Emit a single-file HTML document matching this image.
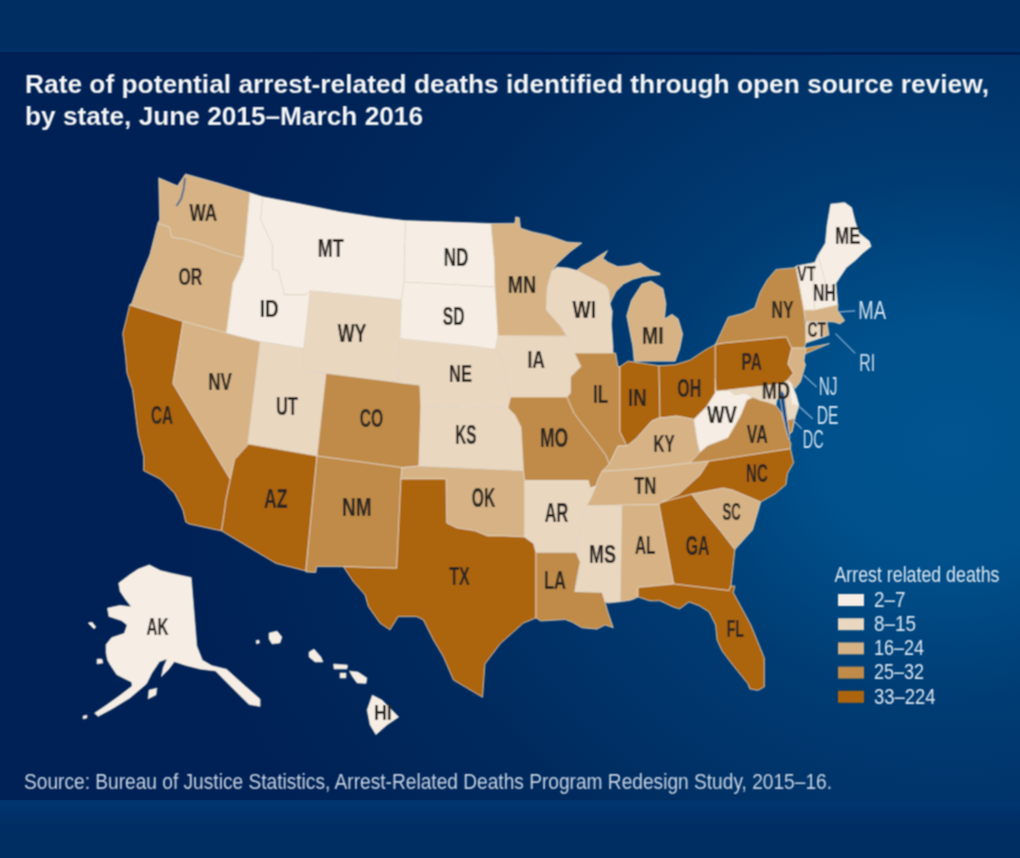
<!DOCTYPE html>
<html><head><meta charset="utf-8"><style>
html,body{margin:0;padding:0;}
body{width:1020px;height:858px;overflow:hidden;position:relative;font-family:"Liberation Sans",sans-serif;
background:#0a2a60;}
#bg{position:absolute;left:0;top:0;width:1020px;height:858px;
background:radial-gradient(1035px 900px at 950px 440px,#00548f 0px,#00508b 140px,#003c73 300px,#00346a 420px,#002a5e 560px,#002155 780px);}
#topband{position:absolute;left:0;top:0;width:1020px;height:52px;background:linear-gradient(180deg,#002e62 0px,#002e62 46px,#003169 51px,#002c60 52px);border-bottom:3px solid #001f52;}
#botband{position:absolute;left:0;top:800px;width:1020px;height:58px;background:linear-gradient(180deg,#00336c 0px,#00366f 4px,#003068 14px,#002e62 30px);}
svg{position:absolute;left:0;top:0;}
</style></head><body>
<div id="bg"></div><div id="topband"></div><div id="botband"></div>
<svg width="1020" height="858" viewBox="0 0 1020 858"><defs><filter id="sb" x="0" y="0" width="1020" height="858" filterUnits="userSpaceOnUse"><feConvolveMatrix order="3" kernelMatrix="1 2 1 2 4 2 1 2 1" divisor="16" edgeMode="none" preserveAlpha="false"/></filter></defs><g filter="url(#sb)">
<g font-family="Liberation Sans, sans-serif" font-weight="bold" fill="#f4f4f4">
<text x="25" y="93" font-size="25.5" textLength="964" lengthAdjust="spacingAndGlyphs">Rate of potential arrest-related deaths identified through open source review,</text>
<text x="25" y="125" font-size="25.5" textLength="398" lengthAdjust="spacingAndGlyphs">by state, June 2015–March 2016</text>
</g>
<g stroke="#e9dccb" stroke-width="0.7" stroke-linejoin="round">
<path d="M158.7 177.8 L177.5 185.8 L185.4 173.9 L218.0 183.0 L250.0 192.7 L244.0 258.0 L225.0 253.0 L203.0 245.0 L185.4 239.3 L171.5 237.3 L169.6 227.4 L157.7 223.4 L159.6 219.5Z" fill="#d6b284"/><path d="M157.7 223.4 L169.6 227.4 L171.5 237.3 L185.4 239.3 L203.0 245.0 L225.0 253.0 L244.0 258.0 L238.9 271.0 L233.0 283.0 L231.0 298.7 L226.5 333.0 L183.2 321.5 L129.5 305.0 L131.9 302.7 L139.8 279.0 L149.7 255.0Z" fill="#d6b284"/><path d="M129.5 305.0 L183.2 321.5 L173.0 383.5 L230.4 479.2 L226.0 500.0 L224.0 515.0 L221.5 531.0 L189.0 524.0 L185.6 522.0 L182.8 510.0 L174.4 493.2 L160.4 479.2 L143.6 470.8 L143.6 456.8 L138.0 434.4 L135.2 412.0 L132.4 389.6 L126.8 372.8 L125.4 356.0 L122.6 333.6 L126.8 316.8 L129.5 305.0Z" fill="#ad650e"/><path d="M183.2 321.5 L226.5 333.0 L260.5 341.5 L248.0 444.0 L247.2 445.6 L234.6 459.6 L230.4 479.2 L173.0 383.5Z" fill="#d6b284"/><path d="M250.0 192.7 L262.7 196.7 L260.7 219.5 L272.6 245.2 L272.6 269.0 L278.6 271.0 L284.5 294.8 L306.3 294.8 L310.3 290.8 L303.8 348.5 L260.5 341.5 L226.5 333.0 L231.0 298.7 L233.0 283.0 L238.9 271.0 L244.0 258.0Z" fill="#f6eee4"/><path d="M262.7 196.7 L300.0 203.8 L339.6 211.7 L379.3 217.7 L405.5 220.6 L404.0 282.0 L401.5 300.0 L310.3 290.8 L306.3 294.8 L284.5 294.8 L278.6 271.0 L272.6 269.0 L272.6 245.2 L260.7 219.5 L262.7 196.7Z" fill="#f6eee4"/><path d="M310.3 290.8 L401.5 300.0 L400.0 338.6 L398.5 382.5 L303.8 370.6 L303.8 348.5Z" fill="#e9d7c0"/><path d="M260.5 341.5 L303.8 348.5 L303.8 370.6 L326.0 373.4 L317.0 456.0 L248.0 444.0Z" fill="#e9d7c0"/><path d="M326.0 373.4 L398.5 382.5 L420.0 385.0 L421.0 406.0 L419.0 466.0 L402.0 467.6 L317.0 456.0Z" fill="#c08b48"/><path d="M248.0 444.0 L317.0 456.0 L305.8 571.0 L276.0 563.5 L221.5 531.0 L224.0 515.0 L226.0 500.0 L230.4 479.2 L234.6 459.6 L247.2 445.6 L248.0 444.0Z" fill="#ad650e"/><path d="M317.0 456.0 L402.0 467.6 L401.0 479.0 L396.7 568.3 L343.3 566.7 L316.7 566.7 L315.8 572.5 L305.8 572.0Z" fill="#c08b48"/><path d="M405.5 220.6 L448.7 222.0 L491.0 223.5 L494.3 260.0 L495.0 287.0 L404.0 282.0Z" fill="#f6eee4"/><path d="M404.0 282.0 L495.0 287.0 L496.0 300.0 L498.0 336.0 L495.3 349.5 L470.0 346.0 L430.0 342.0 L400.0 338.6 L401.5 300.0Z" fill="#f6eee4"/><path d="M400.0 338.6 L430.0 342.0 L470.0 346.0 L495.3 349.5 L503.0 360.0 L505.0 375.0 L508.0 390.0 L510.6 397.0 L508.0 408.0 L421.0 406.0 L420.0 385.0 L398.5 382.5Z" fill="#e9d7c0"/><path d="M421.0 406.0 L508.0 408.0 L515.0 415.0 L521.0 427.0 L523.5 470.6 L419.0 466.0Z" fill="#e9d7c0"/><path d="M402.0 467.6 L419.0 466.0 L523.5 470.6 L524.7 480.5 L524.7 537.0 L503.0 536.0 L487.7 536.0 L475.0 530.8 L457.0 528.0 L446.7 523.0 L446.7 523.0 L446.0 479.0 L401.0 479.0Z" fill="#d6b284"/><path d="M401.0 479.0 L446.0 479.0 L446.7 523.0 L457.0 528.0 L475.0 530.8 L487.7 536.0 L503.0 536.0 L524.7 537.0 L533.8 543.6 L536.0 552.4 L536.0 618.0 L523.6 623.0 L500.5 643.6 L485.0 664.0 L482.6 697.4 L453.3 680.0 L443.3 656.7 L433.3 640.0 L423.3 620.0 L416.7 616.7 L398.3 616.7 L390.0 630.0 L380.0 623.3 L368.3 606.7 L365.0 595.0 L353.3 581.7 L343.3 566.7 L396.7 568.3Z" fill="#ad650e"/><path d="M491.0 223.5 L514.8 223.3 L515.7 216.8 L519.4 217.7 L520.4 228.0 L531.6 231.7 L548.4 235.4 L567.0 242.0 L582.0 243.0 L570.0 252.0 L557.7 263.4 L552.0 271.0 L547.4 287.7 L546.5 310.0 L561.4 326.9 L567.0 336.2 L498.0 336.0 L495.0 287.0 L494.3 260.0Z" fill="#d6b284"/><path d="M498.0 336.0 L567.0 336.2 L574.5 353.0 L581.0 366.5 L570.6 377.0 L570.6 393.0 L567.0 397.0 L510.6 397.0 L508.0 390.0 L505.0 375.0 L503.0 360.0 L495.3 349.5Z" fill="#e9d7c0"/><path d="M510.6 397.0 L567.0 397.0 L574.0 413.0 L583.0 425.0 L597.0 443.0 L605.9 455.3 L609.4 464.0 L602.3 471.2 L598.8 478.0 L596.0 486.0 L590.0 488.0 L588.2 480.5 L524.7 480.5 L523.5 470.6 L521.0 427.0 L515.0 415.0 L508.0 408.0Z" fill="#c08b48"/><path d="M524.7 480.5 L588.2 480.5 L590.0 488.0 L596.0 486.0 L593.5 492.0 L590.0 500.0 L586.5 506.0 L583.0 515.0 L580.0 530.0 L577.6 540.0 L576.3 552.4 L536.0 552.4 L533.8 543.6 L524.7 537.0Z" fill="#e9d7c0"/><path d="M536.0 552.4 L576.3 552.4 L580.4 562.0 L577.6 574.3 L574.9 591.5 L602.3 592.2 L605.1 601.8 L607.8 611.4 L613.3 627.8 L605.1 625.1 L596.9 629.2 L581.8 627.8 L572.2 622.3 L565.3 619.6 L540.6 621.0 L536.0 618.0Z" fill="#c08b48"/><path d="M552.0 271.0 L557.0 267.0 L568.0 268.0 L576.7 270.3 L605.5 285.5 L608.5 290.0 L610.0 303.6 L612.3 311.2 L611.5 324.8 L613.0 346.0 L613.0 353.6 L574.5 353.0 L567.0 336.2 L561.4 326.9 L546.5 310.0 L547.4 287.7Z" fill="#e9d7c0"/><path d="M576.7 270.3 L582.7 265.5 L591.0 261.4 L598.0 256.5 L607.6 250.6 L603.0 258.5 L608.6 262.4 L617.6 266.5 L628.0 265.8 L640.3 262.7 L651.0 270.3 L660.0 273.3 L660.0 274.8 L643.3 276.4 L632.7 279.4 L623.6 284.0 L616.0 291.5 L610.0 303.6 L608.5 290.0 L605.5 285.5Z" fill="#d6b284"/><path d="M634.2 361.2 L632.7 346.0 L629.7 331.0 L626.7 315.8 L631.2 300.6 L641.8 284.0 L651.0 281.0 L663.0 288.5 L666.0 303.6 L664.5 318.8 L672.0 314.2 L678.2 318.8 L682.7 334.0 L679.7 349.0 L675.2 361.2Z" fill="#d6b284"/><path d="M574.5 353.0 L615.7 353.0 L618.0 366.5 L620.0 366.5 L620.0 431.8 L627.0 446.0 L618.0 446.0 L609.4 464.0 L605.9 455.3 L597.0 443.0 L583.0 425.0 L574.0 413.0 L567.0 397.0 L570.6 393.0 L570.6 377.0 L581.0 366.5 L574.5 353.0Z" fill="#c08b48"/><path d="M620.0 366.5 L628.0 361.0 L634.2 362.0 L659.0 365.6 L660.0 417.6 L651.8 421.0 L636.0 438.8 L627.0 446.0 L620.0 431.8Z" fill="#ad650e"/><path d="M659.0 365.6 L674.7 364.7 L690.0 360.0 L705.0 350.0 L715.3 344.5 L715.3 379.0 L715.3 393.0 L706.5 407.0 L694.0 419.4 L676.5 416.0 L664.0 417.6 L660.0 417.6 L660.0 417.6Z" fill="#ad650e"/><path d="M609.4 464.0 L618.0 446.0 L627.0 446.0 L636.0 438.8 L651.8 421.0 L660.0 417.6 L664.0 417.6 L676.5 416.0 L694.0 419.4 L697.6 442.3 L700.0 452.0 L690.0 463.0 L640.0 469.0 L602.3 471.2Z" fill="#d6b284"/><path d="M602.3 471.2 L640.0 469.0 L690.0 463.0 L709.0 461.0 L700.0 475.0 L679.0 494.0 L662.0 502.0 L659.0 504.4 L621.8 505.2 L586.5 506.0 L590.0 500.0 L593.5 492.0 L596.0 486.0 L598.8 478.0Z" fill="#d6b284"/><path d="M586.5 506.0 L621.8 505.2 L620.2 601.8 L607.8 603.1 L605.1 601.8 L602.3 592.2 L574.9 591.5 L580.4 562.0 L576.3 552.4 L577.6 540.0 L580.0 530.0 L583.0 515.0 L586.5 506.0Z" fill="#e9d7c0"/><path d="M621.8 505.2 L659.0 504.4 L673.8 584.0 L638.0 587.5 L638.0 597.0 L634.0 599.0 L629.8 600.4 L620.2 601.8Z" fill="#d6b284"/><path d="M659.0 504.4 L662.0 502.0 L691.8 494.0 L706.0 513.0 L720.0 530.0 L735.0 549.6 L731.0 586.0 L729.0 590.6 L673.8 584.0Z" fill="#ad650e"/><path d="M638.0 587.5 L673.8 584.0 L729.0 590.6 L731.0 586.0 L735.0 586.0 L733.4 592.6 L751.0 625.0 L764.4 658.0 L764.4 687.0 L757.9 690.5 L749.7 688.9 L748.0 684.0 L733.4 666.0 L722.0 651.0 L717.0 640.0 L715.5 625.0 L709.0 612.0 L699.0 605.7 L689.0 602.0 L679.6 609.0 L673.0 607.0 L660.0 600.8 L650.0 601.0 L638.0 597.0Z" fill="#ad650e"/><path d="M691.8 494.0 L723.0 488.0 L732.5 490.0 L760.8 502.0 L752.6 530.0 L735.0 549.6 L720.0 530.0 L706.0 513.0Z" fill="#d6b284"/><path d="M662.0 502.0 L679.0 494.0 L700.0 475.0 L709.0 461.0 L790.6 448.6 L793.7 462.7 L787.5 473.7 L786.0 484.7 L775.0 494.0 L760.8 502.0 L732.5 490.0 L723.0 488.0 L691.8 494.0Z" fill="#ad650e"/><path d="M690.0 463.0 L700.0 452.0 L707.5 445.5 L727.8 437.6 L740.4 415.7 L746.7 400.0 L753.0 397.0 L760.0 400.0 L768.0 402.0 L776.0 405.0 L781.0 412.0 L785.0 424.0 L788.0 436.0 L791.0 444.0 L790.6 448.6 L709.0 461.0Z" fill="#c08b48"/><path d="M694.0 419.4 L706.5 407.0 L715.3 393.0 L715.3 379.0 L716.0 391.0 L728.5 390.0 L735.0 395.0 L745.0 393.0 L753.0 397.0 L746.7 400.0 L740.4 415.7 L727.8 437.6 L707.5 445.5 L700.0 452.0 L697.6 442.3Z" fill="#f6eee4"/><path d="M715.3 344.5 L723.0 343.0 L786.5 336.8 L791.8 348.0 L788.0 364.0 L793.5 373.0 L788.0 380.0 L782.0 384.0 L728.5 390.0 L716.0 391.0 L715.3 379.0Z" fill="#ad650e"/><path d="M728.5 390.0 L782.0 384.0 L784.0 392.0 L777.0 400.0 L776.0 405.0 L768.0 402.0 L760.0 400.0 L753.0 397.0 L745.0 393.0 L735.0 395.0Z" fill="#e9d7c0"/><path d="M782.0 384.0 L788.0 380.0 L791.0 383.0 L796.0 395.0 L799.0 406.0 L795.0 418.0 L792.0 432.0 L789.0 434.0 L787.0 422.0 L785.0 408.0 L783.0 394.0Z" fill="#e9d7c0"/><path d="M788.0 380.0 L791.0 383.0 L796.0 395.0 L799.0 406.0 L792.0 404.0 L790.0 392.0Z" fill="#f6eee4"/><path d="M787.0 420.0 L795.0 418.0 L792.0 432.0 L789.0 434.0Z" fill="#c08b48"/><path d="M781.5 390.0 L784.0 393.0 L786.0 408.0 L788.0 424.0 L790.0 438.0 L788.5 439.0 L785.0 426.0 L782.0 411.0 L780.0 398.0Z" fill="#1d4f8a"/><path d="M715.3 344.5 L728.2 317.0 L742.4 313.5 L754.7 308.0 L760.0 292.3 L767.0 280.0 L775.9 269.4 L795.3 267.6 L796.0 266.0 L804.0 310.0 L806.0 331.0 L806.0 343.0 L801.8 355.4 L829.5 343.5 L806.0 348.0 L791.8 348.0 L786.5 336.8 L723.0 343.0Z" fill="#c08b48"/><path d="M791.8 348.0 L806.0 348.0 L804.0 360.6 L805.5 365.0 L800.6 381.8 L795.0 388.8 L791.0 383.0 L788.0 380.0 L793.5 373.0 L788.0 364.0Z" fill="#d6b284"/><path d="M796.0 266.0 L814.7 262.4 L813.0 285.0 L814.7 310.0 L804.0 310.0Z" fill="#f6eee4"/><path d="M814.7 262.4 L818.0 255.0 L827.0 288.0 L836.0 283.5 L837.6 303.0 L838.0 304.7 L814.7 310.0 L813.0 285.0Z" fill="#f6eee4"/><path d="M818.0 255.0 L825.3 243.0 L827.0 225.0 L830.6 204.0 L844.7 202.4 L851.8 207.6 L855.3 221.8 L858.8 232.4 L869.4 241.2 L871.2 246.5 L862.4 253.5 L855.3 260.6 L846.5 267.6 L839.4 278.2 L836.0 283.5 L827.0 288.0Z" fill="#f6eee4"/><path d="M804.0 310.0 L814.7 310.0 L838.0 304.7 L837.6 310.0 L844.7 320.6 L840.0 324.0 L834.0 322.0 L827.0 321.8 L806.0 321.8Z" fill="#d6b284"/><path d="M806.0 321.8 L822.0 321.8 L824.0 337.0 L806.0 343.0Z" fill="#e9d7c0"/><path d="M822.0 321.8 L827.0 321.8 L829.0 335.0 L824.0 337.0Z" fill="#d6b284"/><path d="M149.3 564.8 L160.5 570.4 L171.7 573.2 L191.3 577.4 L196.9 646.0 L202.4 660.0 L211.7 665.5 L226.6 669.2 L245.2 686.0 L260.1 699.0 L260.1 706.5 L249.0 704.6 L234.0 689.7 L215.4 671.0 L200.5 669.2 L185.6 665.5 L174.4 661.8 L168.8 669.2 L161.4 676.7 L163.2 667.4 L167.0 659.0 L159.5 661.8 L152.0 673.0 L146.5 684.0 L130.0 698.0 L112.0 709.0 L98.0 716.5 L94.5 713.0 L105.0 706.0 L119.0 696.0 L132.0 686.0 L131.6 682.3 L116.7 674.8 L110.2 665.0 L107.4 660.0 L106.0 653.0 L106.0 644.5 L111.6 637.5 L124.2 633.3 L127.0 625.0 L121.4 620.7 L108.8 616.5 L107.4 608.1 L120.0 605.3 L131.2 606.7 L125.6 599.8 L120.0 591.4 L118.6 583.0 L129.8 574.6 L138.1 569.0Z" fill="#f6eee4"/><path d="M149.0 690.0 L157.0 688.0 L156.0 695.0 L148.0 699.0Z" fill="#f6eee4"/><path d="M88.0 623.0 L92.0 622.0 L96.0 627.0 L94.0 629.0Z" fill="#f6eee4"/><path d="M97.0 659.0 L102.0 659.0 L103.0 663.0 L97.0 664.0Z" fill="#f6eee4"/><path d="M83.0 716.0 L87.0 715.0 L87.0 718.0 L83.0 719.0Z" fill="#f6eee4"/><path d="M256.0 640.5 L259.0 640.0 L259.5 643.0 L256.5 644.0Z" fill="#f6eee4"/><path d="M269.0 633.0 L277.0 631.0 L282.0 637.0 L280.0 643.0 L272.0 644.0 L269.0 639.0Z" fill="#f6eee4"/><path d="M309.0 652.0 L314.0 649.0 L321.0 657.0 L323.0 662.0 L315.0 662.0 L309.0 657.0Z" fill="#f6eee4"/><path d="M333.5 664.0 L347.6 665.0 L347.0 669.0 L334.0 669.0Z" fill="#f6eee4"/><path d="M340.0 673.0 L346.0 673.0 L346.0 678.0 L340.0 678.0Z" fill="#f6eee4"/><path d="M349.4 671.0 L358.0 672.0 L367.0 678.0 L366.0 683.5 L357.0 683.0 L352.0 676.0Z" fill="#f6eee4"/><path d="M372.3 695.0 L382.0 700.0 L398.8 717.0 L387.0 725.0 L375.9 734.7 L370.0 725.0 L367.0 710.0Z" fill="#f6eee4"/>
</g>
<g stroke="#8fb0d4" stroke-width="1.2"><line x1="839.5" y1="311.8" x2="855.3" y2="310.8"/><line x1="835.5" y1="333.6" x2="855.3" y2="353.4"/><line x1="803.8" y1="375.2" x2="816.7" y2="387.1"/><line x1="799.8" y1="407" x2="812.7" y2="418.8"/><line x1="792" y1="419" x2="801.8" y2="428.8"/></g><path d="M185 178 L183.5 190 L181 199 L176.5 206" stroke="#5f7090" stroke-width="2" fill="none"/>
<g font-family="Liberation Sans, sans-serif"><text x="189.4" y="220.6" font-size="23.7" textLength="27.7" lengthAdjust="spacingAndGlyphs" fill="#2b2622" stroke="#2b2622" stroke-width="0.2" font-weight="bold">WA</text><text x="178.5" y="285.1" font-size="23.9" textLength="23.8" lengthAdjust="spacingAndGlyphs" fill="#2b2622" stroke="#2b2622" stroke-width="0.2" font-weight="bold">OR</text><text x="259.7" y="316.8" font-size="23.7" textLength="18.9" lengthAdjust="spacingAndGlyphs" fill="#2b2622" stroke="#2b2622" stroke-width="0.2" font-weight="bold">ID</text><text x="317.8" y="256.5" font-size="25.0" textLength="25.8" lengthAdjust="spacingAndGlyphs" fill="#2b2622" stroke="#2b2622" stroke-width="0.2" font-weight="bold">MT</text><text x="443.7" y="266.4" font-size="25.0" textLength="24.8" lengthAdjust="spacingAndGlyphs" fill="#2b2622" stroke="#2b2622" stroke-width="0.2" font-weight="bold">ND</text><text x="442.7" y="324.9" font-size="26.2" textLength="21.8" lengthAdjust="spacingAndGlyphs" fill="#2b2622" stroke="#2b2622" stroke-width="0.2" font-weight="bold">SD</text><text x="337.7" y="341.7" font-size="25.0" textLength="28.7" lengthAdjust="spacingAndGlyphs" fill="#2b2622" stroke="#2b2622" stroke-width="0.2" font-weight="bold">WY</text><text x="449.0" y="382.2" font-size="24.6" textLength="23.0" lengthAdjust="spacingAndGlyphs" fill="#2b2622" stroke="#2b2622" stroke-width="0.2" font-weight="bold">NE</text><text x="208.2" y="390.4" font-size="24.2" textLength="23.6" lengthAdjust="spacingAndGlyphs" fill="#2b2622" stroke="#2b2622" stroke-width="0.2" font-weight="bold">NV</text><text x="150.9" y="424.2" font-size="26.0" textLength="22.0" lengthAdjust="spacingAndGlyphs" fill="#2b2622" stroke="#2b2622" stroke-width="0.2" font-weight="bold">CA</text><text x="275.9" y="415.4" font-size="26.0" textLength="22.1" lengthAdjust="spacingAndGlyphs" fill="#2b2622" stroke="#2b2622" stroke-width="0.2" font-weight="bold">UT</text><text x="359.7" y="427.2" font-size="26.0" textLength="23.5" lengthAdjust="spacingAndGlyphs" fill="#2b2622" stroke="#2b2622" stroke-width="0.2" font-weight="bold">CO</text><text x="264.0" y="508.1" font-size="27.8" textLength="23.6" lengthAdjust="spacingAndGlyphs" fill="#2b2622" stroke="#2b2622" stroke-width="0.2" font-weight="bold">AZ</text><text x="342.0" y="515.7" font-size="25.9" textLength="29.5" lengthAdjust="spacingAndGlyphs" fill="#2b2622" stroke="#2b2622" stroke-width="0.2" font-weight="bold">NM</text><text x="146.5" y="634.8" font-size="24.1" textLength="22.0" lengthAdjust="spacingAndGlyphs" fill="#2b2622" stroke="#2b2622" stroke-width="0.2" font-weight="bold">AK</text><text x="455.3" y="443.9" font-size="26.8" textLength="21.2" lengthAdjust="spacingAndGlyphs" fill="#2b2622" stroke="#2b2622" stroke-width="0.2" font-weight="bold">KS</text><text x="540.0" y="447.4" font-size="26.8" textLength="28.2" lengthAdjust="spacingAndGlyphs" fill="#2b2622" stroke="#2b2622" stroke-width="0.2" font-weight="bold">MO</text><text x="471.8" y="507.4" font-size="26.8" textLength="23.5" lengthAdjust="spacingAndGlyphs" fill="#2b2622" stroke="#2b2622" stroke-width="0.2" font-weight="bold">OK</text><text x="544.7" y="521.5" font-size="27.0" textLength="23.5" lengthAdjust="spacingAndGlyphs" fill="#2b2622" stroke="#2b2622" stroke-width="0.2" font-weight="bold">AR</text><text x="593.0" y="402.7" font-size="25.2" textLength="15.2" lengthAdjust="spacingAndGlyphs" fill="#2b2622" stroke="#2b2622" stroke-width="0.2" font-weight="bold">IL</text><text x="449.2" y="585.2" font-size="26.0" textLength="20.5" lengthAdjust="spacingAndGlyphs" fill="#2b2622" stroke="#2b2622" stroke-width="0.2" font-weight="bold">TX</text><text x="544.0" y="588.9" font-size="25.9" textLength="22.0" lengthAdjust="spacingAndGlyphs" fill="#2b2622" stroke="#2b2622" stroke-width="0.2" font-weight="bold">LA</text><text x="589.0" y="563.2" font-size="25.7" textLength="27.0" lengthAdjust="spacingAndGlyphs" fill="#2b2622" stroke="#2b2622" stroke-width="0.2" font-weight="bold">MS</text><text x="635.0" y="554.2" font-size="25.9" textLength="20.5" lengthAdjust="spacingAndGlyphs" fill="#2b2622" stroke="#2b2622" stroke-width="0.2" font-weight="bold">AL</text><text x="685.7" y="555.1" font-size="27.1" textLength="23.7" lengthAdjust="spacingAndGlyphs" fill="#2b2622" stroke="#2b2622" stroke-width="0.2" font-weight="bold">GA</text><text x="722.4" y="519.7" font-size="24.6" textLength="18.3" lengthAdjust="spacingAndGlyphs" fill="#2b2622" stroke="#2b2622" stroke-width="0.2" font-weight="bold">SC</text><text x="726.7" y="637.2" font-size="24.5" textLength="17.3" lengthAdjust="spacingAndGlyphs" fill="#2b2622" stroke="#2b2622" stroke-width="0.2" font-weight="bold">FL</text><text x="507.8" y="292.7" font-size="24.6" textLength="28.5" lengthAdjust="spacingAndGlyphs" fill="#2b2622" stroke="#2b2622" stroke-width="0.2" font-weight="bold">MN</text><text x="572.5" y="318.2" font-size="24.7" textLength="23.5" lengthAdjust="spacingAndGlyphs" fill="#2b2622" stroke="#2b2622" stroke-width="0.2" font-weight="bold">WI</text><text x="642.0" y="343.7" font-size="24.6" textLength="21.7" lengthAdjust="spacingAndGlyphs" fill="#2b2622" stroke="#2b2622" stroke-width="0.2" font-weight="bold">MI</text><text x="527.5" y="368.2" font-size="24.7" textLength="17.5" lengthAdjust="spacingAndGlyphs" fill="#2b2622" stroke="#2b2622" stroke-width="0.2" font-weight="bold">IA</text><text x="835.0" y="243.9" font-size="24.5" textLength="25.6" lengthAdjust="spacingAndGlyphs" fill="#2b2622" stroke="#2b2622" stroke-width="0.2" font-weight="bold">ME</text><text x="797.0" y="281.1" font-size="22.5" textLength="18.6" lengthAdjust="spacingAndGlyphs" fill="#2b2622" stroke="#2b2622" stroke-width="0.2" font-weight="bold">VT</text><text x="813.0" y="301.3" font-size="23.3" textLength="22.9" lengthAdjust="spacingAndGlyphs" fill="#2b2622" stroke="#2b2622" stroke-width="0.2" font-weight="bold">NH</text><text x="771.5" y="318.1" font-size="23.3" textLength="22.0" lengthAdjust="spacingAndGlyphs" fill="#2b2622" stroke="#2b2622" stroke-width="0.2" font-weight="bold">NY</text><text x="807.6" y="337.3" font-size="22.0" textLength="18.4" lengthAdjust="spacingAndGlyphs" fill="#2b2622" stroke="#2b2622" stroke-width="0.2" font-weight="bold">CT</text><text x="741.5" y="370.4" font-size="24.5" textLength="20.3" lengthAdjust="spacingAndGlyphs" fill="#2b2622" stroke="#2b2622" stroke-width="0.2" font-weight="bold">PA</text><text x="761.8" y="398.6" font-size="24.5" textLength="28.2" lengthAdjust="spacingAndGlyphs" fill="#2b2622" stroke="#2b2622" stroke-width="0.2" font-weight="bold">MD</text><text x="707.0" y="423.2" font-size="24.4" textLength="30.0" lengthAdjust="spacingAndGlyphs" fill="#2b2622" stroke="#2b2622" stroke-width="0.2" font-weight="bold">WV</text><text x="628.0" y="406.2" font-size="24.5" textLength="18.5" lengthAdjust="spacingAndGlyphs" fill="#2b2622" stroke="#2b2622" stroke-width="0.2" font-weight="bold">IN</text><text x="677.3" y="397.4" font-size="25.5" textLength="23.9" lengthAdjust="spacingAndGlyphs" fill="#2b2622" stroke="#2b2622" stroke-width="0.2" font-weight="bold">OH</text><text x="653.5" y="452.2" font-size="24.6" textLength="21.2" lengthAdjust="spacingAndGlyphs" fill="#2b2622" stroke="#2b2622" stroke-width="0.2" font-weight="bold">KY</text><text x="746.7" y="443.2" font-size="24.9" textLength="21.1" lengthAdjust="spacingAndGlyphs" fill="#2b2622" stroke="#2b2622" stroke-width="0.2" font-weight="bold">VA</text><text x="746.0" y="481.6" font-size="24.9" textLength="21.8" lengthAdjust="spacingAndGlyphs" fill="#2b2622" stroke="#2b2622" stroke-width="0.2" font-weight="bold">NC</text><text x="634.0" y="494.3" font-size="23.3" textLength="22.2" lengthAdjust="spacingAndGlyphs" fill="#2b2622" stroke="#2b2622" stroke-width="0.2" font-weight="bold">TN</text><text x="374.0" y="719.9" font-size="22.2" textLength="17.8" lengthAdjust="spacingAndGlyphs" fill="#2b2622" stroke="#2b2622" stroke-width="0.2" font-weight="bold">HI</text><text x="858.3" y="318.9" font-size="24.9" textLength="27.7" lengthAdjust="spacingAndGlyphs" fill="#d5e2f0" stroke="#d5e2f0" stroke-width="0" font-weight="normal">MA</text><text x="859.3" y="370.5" font-size="23.9" textLength="15.8" lengthAdjust="spacingAndGlyphs" fill="#d5e2f0" stroke="#d5e2f0" stroke-width="0" font-weight="normal">RI</text><text x="818.7" y="395.2" font-size="25.0" textLength="18.8" lengthAdjust="spacingAndGlyphs" fill="#d5e2f0" stroke="#d5e2f0" stroke-width="0" font-weight="normal">NJ</text><text x="816.7" y="424.0" font-size="25.0" textLength="21.8" lengthAdjust="spacingAndGlyphs" fill="#d5e2f0" stroke="#d5e2f0" stroke-width="0" font-weight="normal">DE</text><text x="802.8" y="447.8" font-size="25.0" textLength="20.8" lengthAdjust="spacingAndGlyphs" fill="#d5e2f0" stroke="#d5e2f0" stroke-width="0" font-weight="normal">DC</text></g>
<g font-family="Liberation Sans, sans-serif" fill="#dfe8f2">
<text x="834.5" y="582" font-size="22" textLength="165" lengthAdjust="spacingAndGlyphs">Arrest related deaths</text>
<rect x="838" y="594.0" width="26" height="12" fill="#f6eee4"/><text x="874" y="606.8" font-size="21.5" textLength="31.5" lengthAdjust="spacingAndGlyphs">2–7</text><rect x="838" y="618.2" width="26" height="12" fill="#e9d7c0"/><text x="874" y="631.0" font-size="21.5" textLength="42" lengthAdjust="spacingAndGlyphs">8–15</text><rect x="838" y="642.4" width="26" height="12" fill="#d6b284"/><text x="874" y="655.2" font-size="21.5" textLength="50" lengthAdjust="spacingAndGlyphs">16–24</text><rect x="838" y="666.6" width="26" height="12" fill="#c08b48"/><text x="874" y="679.4" font-size="21.5" textLength="50" lengthAdjust="spacingAndGlyphs">25–32</text><rect x="838" y="690.8" width="26" height="12" fill="#ad650e"/><text x="874" y="703.6" font-size="21.5" textLength="61.5" lengthAdjust="spacingAndGlyphs">33–224</text>
</g>
<text x="24" y="789" font-family="Liberation Sans, sans-serif" font-size="21.5" fill="#c8d3e2" textLength="808" lengthAdjust="spacingAndGlyphs">Source: Bureau of Justice Statistics, Arrest-Related Deaths Program Redesign Study, 2015–16.</text>
</g></svg>
</body></html>
